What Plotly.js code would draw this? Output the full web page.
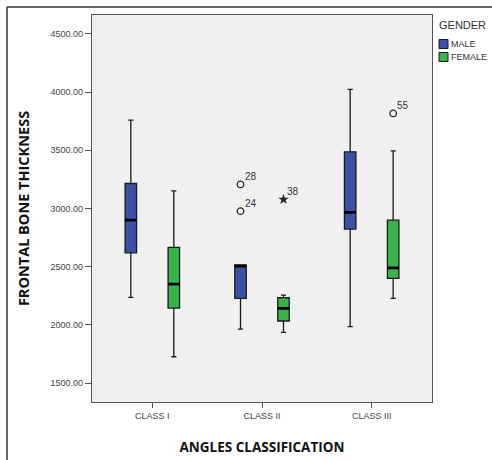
<!DOCTYPE html>
<html>
<head>
<meta charset="utf-8">
<script src="https://cdn.plot.ly/plotly-3.0.1.min.js"></script>
<style>html,body{margin:0;padding:0;background:#fff;}#chart{width:492px;height:460px;}</style>
</head>
<body>
<div id="chart"></div>
<script>
var categories = ['CLASS I', 'CLASS II', 'CLASS III'];

var maleQ1 = [2619, 2228, 2823];
var maleMedian = [2900, 2505, 2966];
var maleQ3 = [3215, 2515, 3487];
var maleLower = [2236, 1964, 1984];
var maleUpper = [3759, 2515, 4023];

var femaleQ1 = [2144, 2033, 2399];
var femaleMedian = [2350, 2142, 2490];
var femaleQ3 = [2666, 2233, 2900];
var femaleLower = [1726, 1935, 2228];
var femaleUpper = [3152, 2256, 3496];

// outliers (case numbers as labels)
var maleOutX = ['CLASS II', 'CLASS II'];
var maleOutY = [3207, 2977];
var maleOutLabel = ['28', '24'];

var femaleOutX = ['CLASS III'];
var femaleOutY = [3817];
var femaleOutLabel = ['55'];

var femaleExtremeX = ['CLASS II'];
var femaleExtremeY = [3078];
var femaleExtremeLabel = ['38'];

var yTicks = [1500, 2000, 2500, 3000, 3500, 4000, 4500];

var legendTitle = 'GENDER';
var legendNames = ['MALE', 'FEMALE'];
var legendColors = ['#3a51a6', '#38b449'];

var BOXGAP = 0.216, BOXGROUPGAP = 0.733;
var M = {l: 92, r: 60, t: 15, b: 58, autoexpand: false}, W = 492, H = 460;
var XRANGE = [-0.55, 2.55];

var boxLine = {color: '#1a1a1a', width: 1.3};
var medLine = {color: '#000000', width: 2.8};

function box(name, q1, med, q3, lo, hi, fill, group) {
  return {type: 'box', name: name, x: categories, q1: q1, median: med, q3: q3,
    lowerfence: lo, upperfence: hi, fillcolor: fill, line: boxLine,
    whiskerwidth: 0.45, boxpoints: false, hoverinfo: 'skip',
    offsetgroup: group, showlegend: false};
}
function medianBar(med, group) {
  return {type: 'box', x: categories, q1: med, median: med, q3: med,
    lowerfence: med, upperfence: med, fillcolor: 'rgba(0,0,0,0)', line: medLine,
    whiskerwidth: 0, boxpoints: false, hoverinfo: 'skip', showlegend: false,
    offsetgroup: group};
}
function pointsOnly(xs, ys, symbol, size, lw, group) {
  return {type: 'box', x: xs, y: ys, boxpoints: 'all', jitter: 0, pointpos: 0,
    fillcolor: 'rgba(0,0,0,0)', line: {color: 'rgba(0,0,0,0)', width: 0},
    whiskerwidth: 0,
    marker: {symbol: symbol, size: size, color: '#222', line: {width: lw, color: '#222'}},
    showlegend: false, hoverinfo: 'skip', offsetgroup: group};
}

var traces = [
  box(legendNames[0], maleQ1, maleMedian, maleQ3, maleLower, maleUpper, legendColors[0], 'm'),
  box(legendNames[1], femaleQ1, femaleMedian, femaleQ3, femaleLower, femaleUpper, legendColors[1], 'f'),
  medianBar(maleMedian, 'm'),
  medianBar(femaleMedian, 'f'),
  pointsOnly(maleOutX, maleOutY, 'circle-open', 6.5, 1.3, 'm'),
  pointsOnly(femaleOutX, femaleOutY, 'circle-open', 6.5, 1.3, 'f'),
  pointsOnly(femaleExtremeX, femaleExtremeY, 'star', 8, 0, 'f')
];

// horizontal offset (px) of each gender's box centre from the category centre
var plotW = W - M.l - M.r, plotH = H - M.t - M.b;
var catPx = plotW / (XRANGE[1] - XRANGE[0]);
var groupOffsetPx = (1 - BOXGAP) / 4 * catPx;

function labelAnns(xs, ys, labels, sign) {
  return xs.map(function (x, i) {
    return {x: x, y: ys[i], xref: 'x', yref: 'y', text: labels[i], showarrow: false,
      xanchor: 'left', yanchor: 'bottom', xshift: sign * groupOffsetPx + 2, yshift: 0,
      font: {family: 'Arial, Liberation Sans', size: 10, color: '#333'}};
  });
}

// legend drawn in pixel positions converted to paper units
function px2x(px) { return (px - M.l) / plotW; }
function px2y(py) { return (H - M.b - py) / plotH; }
var legendShapes = [], legendAnns = [];
legendAnns.push({xref: 'paper', yref: 'paper', x: px2x(437), y: px2y(25), xanchor: 'left', yanchor: 'middle',
  text: legendTitle, showarrow: false, font: {family: 'Arial, Liberation Sans', size: 11, color: '#333'}});
legendNames.forEach(function (name, i) {
  var cy = 44 + i * 13;
  legendShapes.push({type: 'rect', xref: 'paper', yref: 'paper',
    x0: px2x(439), x1: px2x(448), y0: px2y(cy - 4.5), y1: px2y(cy + 4.5),
    fillcolor: legendColors[i], line: {color: '#1a1a1a', width: 1}});
  legendAnns.push({xref: 'paper', yref: 'paper', x: px2x(449), y: px2y(cy), xanchor: 'left', yanchor: 'middle',
    text: name, showarrow: false, font: {family: 'Arial, Liberation Sans', size: 9, color: '#333'}});
});

var annotations = [].concat(
  labelAnns(maleOutX, maleOutY, maleOutLabel, -1),
  labelAnns(femaleOutX, femaleOutY, femaleOutLabel, 1),
  labelAnns(femaleExtremeX, femaleExtremeY, femaleExtremeLabel, 1),
  legendAnns
);

var layout = {
  width: W, height: H,
  margin: M,
  showlegend: false,
  paper_bgcolor: '#ffffff',
  plot_bgcolor: '#f0f0f0',
  boxmode: 'group',
  boxgap: BOXGAP,
  boxgroupgap: BOXGROUPGAP,
  font: {family: 'Arial, Liberation Sans, sans-serif', color: '#444'},
  xaxis: {
    type: 'category', categoryorder: 'array', categoryarray: categories,
    range: XRANGE,
    showline: true, linecolor: '#555', linewidth: 1.2, mirror: true,
    ticks: 'outside', ticklen: 5, tickcolor: '#555', tickwidth: 1,
    showgrid: false, zeroline: false,
    tickfont: {family: 'Arial, Liberation Sans', size: 9, color: '#444'},
    title: {text: 'ANGLES CLASSIFICATION', standoff: 22,
            font: {family: 'Open Sans', size: 13.5, color: '#111', weight: 'bold'}}
  },
  yaxis: {
    range: [1337, 4663],
    tickvals: yTicks, tickformat: '.2f',
    showline: true, linecolor: '#555', linewidth: 1.2, mirror: true,
    ticks: 'outside', ticklen: 6, tickcolor: '#555', tickwidth: 1,
    showgrid: false, zeroline: false,
    tickfont: {family: 'Arial, Liberation Sans', size: 9, color: '#444'},
    title: {text: 'FRONTAL BONE THICKNESS', standoff: 17,
            font: {family: 'Open Sans', size: 14.5, color: '#111', weight: 'bold'}}
  },
  annotations: annotations,
  shapes: [
    {type: 'line', xref: 'paper', yref: 'paper', x0: px2x(7), x1: px2x(7), y0: px2y(7), y1: px2y(470),
     line: {color: '#333', width: 1.5}},
    {type: 'line', xref: 'paper', yref: 'paper', x0: px2x(7), x1: px2x(500), y0: px2y(7), y1: px2y(7),
     line: {color: '#333', width: 1.5}}
  ].concat(legendShapes)
};

Plotly.newPlot('chart', traces, layout, {displayModeBar: false, staticPlot: true});
</script>
</body>
</html>
